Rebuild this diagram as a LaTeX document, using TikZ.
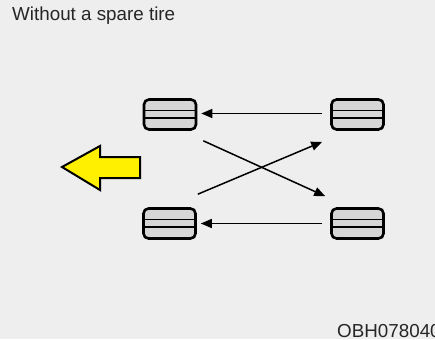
\documentclass[tikz,border=0pt]{standalone}
\usepackage{fontspec}
\setmainfont{Liberation Sans}
\usetikzlibrary{arrows.meta,calc}
\definecolor{bgc}{HTML}{EEEEEE}
\definecolor{tirefill}{HTML}{D6D6D6}
\definecolor{arrowyellow}{HTML}{FFF000}
\tikzset{
  tire/.style={draw=black, line width=2.6pt, rounded corners=5pt, fill=tirefill,
    minimum width=52pt, minimum height=30pt, inner sep=0pt},
  tread/.style={draw=black, line width=1.8pt},
  conn/.style={draw=black, line width=1.5pt, -{Triangle[length=11pt,width=9pt]}},
  label/.style={font=\fontsize{18.8pt}{22pt}\selectfont, text=black!85, inner sep=0pt, anchor=base west}
}
\begin{document}
\begin{tikzpicture}[x=1pt,y=-1pt]
\clip (0,0) rectangle (435,339);
\fill[bgc] (0,0) rectangle (435,339);
\useasboundingbox (0,0) rectangle (435,339);

\node[label] (title) at (12,21) {Without a spare tire};
\node[label] (code) at (337,337) {OBH078040};

\foreach \n/\x/\y in {tl/170/114.5, tr/357.5/114.5, bl/169.5/223.5, br/357.5/223.5} {
  \node[tire] (\n) at (\x,\y) {};
  \draw[tread] ($(\n.west)+(0,-4)$) -- ($(\n.east)+(0,-4)$);
  \draw[tread] ($(\n.west)+(0,3.5)$) -- ($(\n.east)+(0,3.5)$);
}

\draw[conn] ($(tr.west)+(-8,-1)$) -- ($(tl.east)+(4,-1)$);
\draw[conn] ($(br.west)+(-8,0)$) -- ($(bl.east)+(4,0)$);
\draw[conn] ($(tl.south east)+(6,10)$) -- ($(br.north west)+(-5,-11)$);
\draw[conn] ($(bl.north east)+(1,-13)$) -- ($(tr.south west)+(-8,11)$);

\draw[fill=arrowyellow, line width=2pt, line join=miter] (62,167) -- (100,146) -- (100,157) -- (140,157) -- (140,178) -- (100,178) -- (100,190) -- cycle;
\end{tikzpicture}
\end{document}
